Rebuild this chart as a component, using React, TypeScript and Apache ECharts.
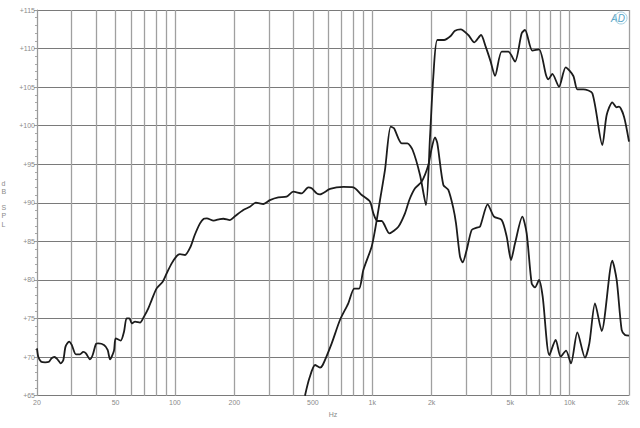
import React, { useEffect, useRef } from "react";
import * as echarts from "echarts";

const freqA = [20,20.3,21,22,23,23.7,24.5,25.4,26.4,27.2,27.9,29.1,30,31.5,33,34.3,35.4,37.1,38.3,39.8,40.9,43.7,45.6,46.9,49.1,50.1,53.1,55.2,56.9,58.8,60.4,62.8,66.5,69.7,73.3,76.2,80.8,86.7,90.8,96.3,102,106,112.5,120,126,134,140,145,157,169,176,190,202,222,240,257,281,303,334,368,398,439,474,493,523,543,611,714,802,884,974,1013,1061,1116,1221,1356,1465,1541,1647,1780,1924,2000,2079,2137,2292,2429,2576,2657,2784,2872,3009,3190,3382,3516,3844,4140,4527,4800,5048,5290,5761,6060,6424,6680,7000,7305,7897,8500,9011,9593,10160,10946,11968,12593,13451,14538,16468,17321,18359,19088,20000];
const dbA = [71.14,70.06,69.41,69.33,69.41,69.85,70.02,69.72,69.2,69.63,71.36,72.01,71.58,70.37,70.37,70.67,70.5,69.72,70.28,71.71,71.79,71.58,70.93,69.72,70.84,72.44,72.14,73.3,75.03,75.03,74.38,74.6,74.47,75.25,76.33,77.4,78.91,79.78,80.86,82.15,83.1,83.36,83.24,84.31,85.83,87.34,87.94,87.99,87.69,87.9,87.94,87.77,88.29,89.07,89.5,90.02,89.85,90.36,90.71,90.8,91.45,91.23,92.01,91.88,91.23,91.1,91.8,92.06,92.01,91.02,90.15,88.64,87.65,87.65,86.05,86.91,88.64,90.37,91.88,92.75,94.91,97.07,98.5,97.72,92.32,91.67,89.29,87.34,83.02,82.29,83.89,86.48,86.78,86.91,89.81,88.21,87.78,85.62,82.59,84.75,88.21,86.05,79.57,79.05,80,77.84,70.27,72.22,70.06,70.84,69.19,73.21,69.93,71.79,76.97,73.39,82.5,80,73.52,72.87,72.78];
const freqB = [456,480,513,543.5,561,623,686,756,811,857,901,993,1033,1095,1160,1240,1289,1409,1506,1602,1746,1872,1962,2039,2137,2310,2496,2626,2805,3068,3290,3557,3756,3982,4188,4527,4893,5290,5718,5944,6475,7000,7593,7805,8175,8840,9556,10447,10946,11739,13039,14651,15413,16468,17321,17798,18869,20000];
const dbB = [65,67.25,68.98,68.64,68.98,71.79,74.81,76.97,78.87,78.87,81.29,84.32,86.48,90.37,94.26,99.88,99.66,97.72,97.72,96.85,93.61,89.72,98.58,106.36,111.11,111.11,111.63,112.32,112.5,111.76,110.81,111.76,110.25,108.31,106.45,109.6,109.6,108.31,111.98,112.41,109.73,109.9,106.58,106.01,106.71,105.06,107.57,106.45,104.72,104.72,104.2,97.5,101.39,103.03,102.38,102.47,101.17,97.93];

const gridFreqs = [20,30,40,50,60,70,80,90,100,200,300,400,500,600,700,800,900,1000,2000,3000,4000,5000,6000,7000,8000,9000,10000,20000];
const labelFreqs = [20,50,100,200,500,1000,2000,5000,10000,20000];
const labelNames = ["20","50","100","200","500","1k","2k","5k","10k","20k"];

export default function App() {
  const ref = useRef<HTMLDivElement>(null);
  useEffect(() => {
    const chart = echarts.init(ref.current!, null, { renderer: "svg" });
    const font = "'Liberation Sans', Arial, sans-serif";
    const line = (f: number[], d: number[]) => ({
      type: "line",
      data: f.map((v, i) => [v, d[i]]),
      showSymbol: false,
      symbol: "none",
      smooth: 0.25,
      lineStyle: { color: "#1c1c1c", width: 1.8 },
      clip: true,
      z: 5,
    });
    chart.setOption({
      animation: false,
      backgroundColor: "#ffffff",
      grid: { left: 37, right: 11, top: 10, bottom: 32.3, show: false },
      xAxis: {
        type: "log",
        logBase: 10,
        min: 20,
        max: 20000,
        name: "Hz",
        nameLocation: "middle",
        nameGap: 12,
        nameTextStyle: { color: "#8a8a8a", fontSize: 7, fontFamily: font },
        axisLine: { show: false },
        axisTick: { show: false, customValues: gridFreqs },
        minorTick: { show: false },
        axisLabel: {
          customValues: labelFreqs,
          color: "#8a8a8a",
          fontSize: 7,
          fontFamily: font,
          margin: 3,
          alignMaxLabel: "right",
          formatter: (v: number) => {
            const i = labelFreqs.findIndex((f) => Math.abs(f - v) < 1e-6 * f);
            return i >= 0 ? labelNames[i] : "";
          },
        },
        splitLine: { show: true, lineStyle: { color: "#a0a0a0", width: 1.3 } },
      },
      yAxis: {
        type: "value",
        min: 65,
        max: 115,
        interval: 5,
        axisLine: { show: true, lineStyle: { color: "#9a9a9a" } },
        axisTick: { show: true, length: 3, inside: false, lineStyle: { color: "#9a9a9a" } },
        minorTick: { show: true, splitNumber: 5, length: 2, lineStyle: { color: "#a8a8a8" } },
        axisLabel: {
          color: "#8a8a8a",
          fontSize: 7,
          fontFamily: font,
          margin: 2,
          formatter: (v: number) => "+" + v,
        },
        splitLine: { show: true, lineStyle: { color: "#7a7a7a", width: 1 } },
      },
      series: [line(freqA, dbA), line(freqB, dbB)],
      graphic: [
        {
          type: "text",
          x: 1.5,
          y: 179,
          style: {
            text: "d\nB\n\nS\nP\nL",
            fill: "#8a8a8a",
            font: "7px " + font,
            lineHeight: 8.2,
          },
        },
        {
          type: "text",
          x: 618,
          y: 18,
          style: {
            text: "AD",
            fill: "#5aa5c6",
            font: "italic 10px " + font,
            align: "center",
            verticalAlign: "middle",
          },
        },
        {
          type: "circle",
          shape: { cx: 621, cy: 18, r: 6 },
          style: { fill: "none", stroke: "#a5cfe0", lineWidth: 1 },
        },
      ],
    });
    return () => chart.dispose();
  }, []);
  return <div ref={ref} style={{ position: "fixed", left: 0, top: 0, width: 640, height: 428 }} />;
}
